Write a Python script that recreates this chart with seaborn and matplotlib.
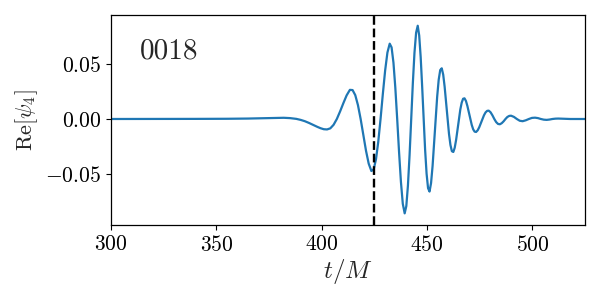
import pandas as pd
import seaborn as sns
import matplotlib
matplotlib.use('Agg')
import matplotlib.pyplot as plt

# waveform (t/M, Re[psi_4])
t = [300, 320, 340, 355, 365, 372, 378, 382, 385, 388, 390, 392, 394, 396, 398, 399.5,
     401.0, 402.55, 404.1, 405.65, 407.2, 408.75, 410.3, 411.85,
     413.4, 414.675, 415.95, 417.225, 418.5, 419.775, 421.05, 422.325,
     423.6, 424.69, 425.78, 426.86, 427.95, 429.04, 430.13, 431.21,
     432.3, 433.19, 434.08, 434.96, 435.85, 436.74, 437.63, 438.51,
     439.4, 440.18, 440.95, 441.73, 442.5, 443.28, 444.05, 444.83,
     445.6, 446.3, 447.0, 447.7, 448.4, 449.1, 449.8, 450.5,
     451.2, 451.925, 452.65, 453.375, 454.1, 454.825, 455.55, 456.275,
     457.0, 457.69, 458.375, 459.06, 459.75, 460.44, 461.125, 461.81,
     462.5, 463.16, 463.825, 464.49, 465.15, 465.81, 466.475, 467.14,
     467.8, 468.49, 469.175, 469.86, 470.55, 471.24, 471.925, 472.61,
     473.3, 474.05, 474.8, 475.55, 476.3, 477.05, 477.8, 478.55,
     479.3, 480.18, 481.07, 481.95, 482.83, 483.72,
     484.6, 485.48, 486.37, 487.25, 488.13, 489.02,
     489.9, 491.275, 492.65, 494.025,
     495.4, 496.875, 498.35, 499.825,
     501.3, 502.675, 504.05, 505.425,
     506.8, 508.175, 509.55, 510.925,
     512.3, 515, 518, 521, 525]
re_psi4 = [0.0, 0.0, 0.0001, 0.0002, 0.0004, 0.0007, 0.0010, 0.0011, 0.0008, 0.0001, -0.0008, -0.0020, -0.0036, -0.0054, -0.0072, -0.0084,
           -0.0093, -0.0095, -0.0085, -0.0053, 0.0, 0.0069, 0.0144, 0.0215,
           0.0265, 0.0263, 0.0217, 0.0126, 0.0, -0.0146, -0.0289, -0.0406,
           -0.0473, -0.0458, -0.0367, -0.0208, 0.0, 0.0228, 0.0441, 0.0604,
           0.0685, 0.0651, 0.0512, 0.0285, 0.0, -0.0302, -0.0573, -0.0771,
           -0.0858, -0.0792, -0.0605, -0.0327, 0.0, 0.0326, 0.0601, 0.0785,
           0.0848, 0.0759, 0.0563, 0.0296, 0.0, -0.0278, -0.0497, -0.0629,
           -0.0660, -0.0583, -0.0427, -0.0221, 0.0, 0.0202, 0.0357, 0.0445,
           0.0461, 0.0404, 0.0293, 0.0150, 0.0, -0.0135, -0.0236, -0.0293,
           -0.0300, -0.0261, -0.0189, -0.0096, 0.0, 0.0086, 0.0149, 0.0184,
           0.0188, 0.0164, 0.0118, 0.0060, 0.0, -0.0054, -0.0094, -0.0115,
           -0.0118, -0.0103, -0.0075, -0.0038, 0.0, 0.0034, 0.0060, 0.0074,
           0.0076, 0.0061, 0.0033, 0.0, -0.0028, -0.0045,
           -0.0048, -0.0038, -0.0021, 0.0, 0.0018, 0.0028,
           0.0030, 0.0019, 0.0, -0.0016,
           -0.0020, -0.0012, 0.0, 0.0010,
           0.0012, 0.0008, 0.0, -0.0006,
           -0.0008, -0.0005, 0.0, 0.0003,
           0.0004, 0.0002, 0.0, 0.0, 0.0]
t_peak = 425.0
label = '0018'
xticks = [300, 350, 400, 450, 500]
yticks = [-0.05, 0.0, 0.05]

df = pd.DataFrame({'t': t, 're': re_psi4})

sns.set_style('ticks')
plt.rcParams['font.family'] = 'serif'
plt.rcParams['font.serif'] = ['cmr10', 'DejaVu Serif']
plt.rcParams['mathtext.fontset'] = 'cm'
plt.rcParams['axes.formatter.use_mathtext'] = True
plt.rcParams['axes.unicode_minus'] = True

fig = plt.figure(figsize=(6, 3), dpi=100)
ax = fig.add_axes([0.185, 0.25, 0.79, 0.699])

sns.lineplot(data=df, x='t', y='re', ax=ax, color='#1f77b4', linewidth=1.6, estimator=None, sort=False)
ax.axvline(t_peak, color='black', linestyle='--', linewidth=1.7)

ax.set_xlim(300, 525)
ax.set_ylim(-0.0964, 0.0943)
ax.set_xticks(xticks)
ax.set_yticks(yticks)
ax.set_yticklabels(['$-0.05$', '$0.00$', '$0.05$'])
ax.set_xticklabels([f'${v}$' for v in xticks])
ax.tick_params(labelsize=15.5, length=3.5, width=0.8, colors='black')
for s in ax.spines.values():
    s.set_color('black')
    s.set_linewidth(0.9)

ax.set_xlabel(r'$t/M$', fontsize=18, labelpad=2)
ax.set_ylabel(r'$\mathrm{Re}[\psi_4]$', fontsize=16, labelpad=4)
ax.text(0.06, 0.83, label, transform=ax.transAxes, fontsize=21, va='center', ha='left')

fig.savefig('out.png', dpi=100)
